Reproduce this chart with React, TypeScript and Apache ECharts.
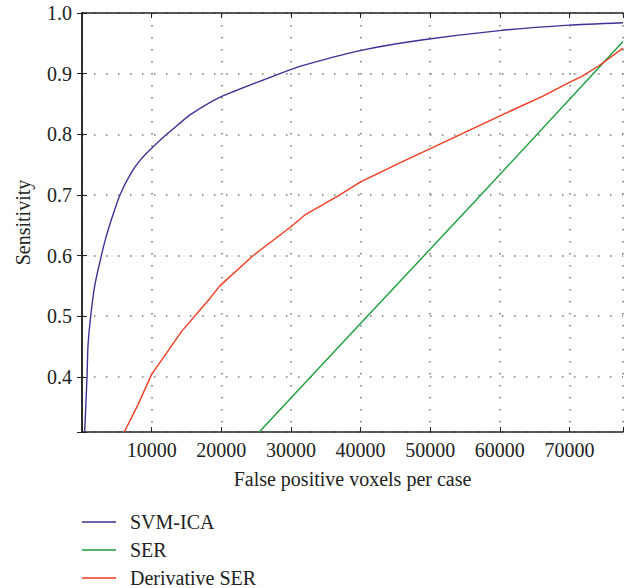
import React, { useEffect, useRef } from "react";
import * as echarts from "echarts";

const seriesNames = ["SVM-ICA", "SER", "Derivative SER"];
const colors = ["#3d3195", "#1b9e3e", "#f23c21"];

// [false positive voxels per case, sensitivity]
const svmIca: [number, number][] = [
  [390, 0.31], [720, 0.40], [860, 0.451], [1250, 0.50], [1820, 0.55], [2780, 0.60],
  [3490, 0.632], [4210, 0.659], [5450, 0.70], [7000, 0.735], [8330, 0.757],
  [10000, 0.777], [12160, 0.80], [13830, 0.816], [15500, 0.832], [20000, 0.862],
  [28420, 0.90], [31290, 0.912], [39950, 0.938], [48520, 0.955], [59950, 0.971],
  [69940, 0.98], [77700, 0.984],
];
const ser: [number, number][] = [
  [25450, 0.309], [40000, 0.488], [56650, 0.692], [77700, 0.953],
];
const derivSer: [number, number][] = [
  [6070, 0.309], [8080, 0.355], [10000, 0.404], [14310, 0.475], [18270, 0.528],
  [19800, 0.55], [24590, 0.60], [29960, 0.647], [32010, 0.667], [37030, 0.70],
  [39950, 0.721], [45640, 0.753], [49950, 0.776], [59950, 0.83], [66200, 0.863],
  [69940, 0.885], [71720, 0.895], [74250, 0.913], [77700, 0.942],
];

const xMin = 0;
const xMax = 77700;
const xStep = 10000;
const yMin = 0.309;
const yMax = 1.0;

const FONT = "Liberation Serif";

export default function App() {
  const ref = useRef<HTMLDivElement>(null);
  useEffect(() => {
    if (!ref.current) return;
    const chart = echarts.init(ref.current, undefined, { renderer: "svg" });
    const axisLine = { show: true, lineStyle: { color: "#222", width: 1.5 } };
    const tick = { show: true, inside: true, length: 5, lineStyle: { color: "#222", width: 1 } };
    const split = { show: true, lineStyle: { color: "#777", width: 1.5, type: [1.5, 10.5] } };
    const dataSets = [svmIca, ser, derivSer];
    const smoothing = [0.2, false, false];
    chart.setOption({
      animation: false,
      backgroundColor: "#fff",
      textStyle: { fontFamily: FONT },
      grid: { left: 82, right: 5, top: 13, bottom: 156 },
      legend: seriesNames.map((name, i) => ({
        orient: "vertical",
        left: 82,
        top: 512 + i * 28,
        padding: 0,
        icon: "rect",
        itemWidth: 34,
        itemHeight: 1.3,
        data: [name],
        textStyle: { fontFamily: FONT, fontSize: 20, color: "#222", lineHeight: 20, padding: [0, 0, 0, 9] },
      })),
      xAxis: [
        {
          type: "value", min: xMin, max: xMax, interval: xStep,
          name: "False positive voxels per case", nameLocation: "middle", nameGap: 37,
          nameTextStyle: { fontFamily: FONT, fontSize: 20, color: "#222" },
          axisLine, axisTick: tick, splitLine: split,
          axisLabel: {
            fontFamily: FONT, fontSize: 20, color: "#222", margin: 8,
            formatter: (v: number) => (v === 0 || v % xStep !== 0 ? "" : String(v)),
          },
        },
        {
          type: "value", position: "top", min: xMin, max: xMax, interval: xStep,
          axisLine, axisTick: tick, splitLine: { show: false }, axisLabel: { show: false },
        },
      ],
      yAxis: [
        {
          type: "value", min: yMin, max: yMax, splitNumber: 7,
          name: "Sensitivity", nameLocation: "middle", nameGap: 49,
          nameTextStyle: { fontFamily: FONT, fontSize: 20, color: "#222" },
          axisLine, axisTick: tick, splitLine: split,
          axisLabel: {
            fontFamily: FONT, fontSize: 20, color: "#222", margin: 10,
            formatter: (v: number) => {
              const r = Math.round(v * 10) / 10;
              return Math.abs(r - v) < 1e-6 ? r.toFixed(1) : "";
            },
          },
        },
        {
          type: "value", position: "right", min: yMin, max: yMax, splitNumber: 7,
          axisLine, axisTick: tick, splitLine: { show: false }, axisLabel: { show: false },
        },
      ],
      series: seriesNames.map((name, i) => ({
        name,
        type: "line",
        data: dataSets[i],
        showSymbol: false,
        symbol: "none",
        smooth: smoothing[i],
        clip: true,
        lineStyle: { color: colors[i], width: 1.4 },
        itemStyle: { color: colors[i] },
      })),
    });
    return () => chart.dispose();
  }, []);
  return <div ref={ref} style={{ width: 628, height: 588, position: "absolute", left: 0, top: 0 }} />;
}
